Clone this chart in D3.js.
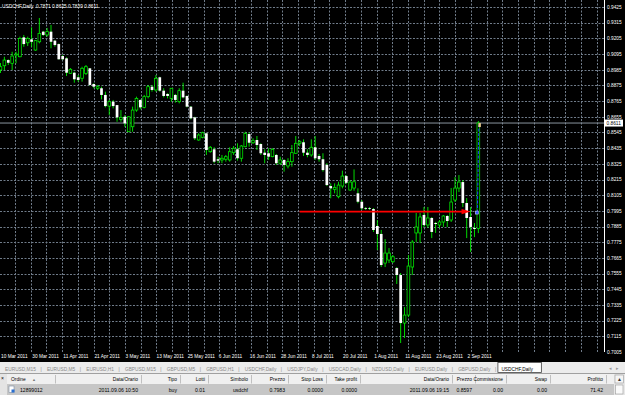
<!DOCTYPE html>
<html>
<head>
<meta charset="utf-8">
<script src="https://cdn.jsdelivr.net/npm/d3@7"></script>
<style>
  body { margin: 0; background: #000; }
  svg { display: block; font-family: "Liberation Sans", Arial, sans-serif; }
</style>
</head>
<body>
<svg id="chart" width="625" height="395"></svg>
<script>
// ---- data ----
const symbol = "USDCHF,Daily";
const firstDay = "2011-03-17";
const lastDay = "2011-09-06";

const opens = [
  0.8983,0.9013,0.9053,0.9030,0.9088,0.9076,0.9212,0.9174,0.9198,0.9123,
  0.9181,0.9252,0.9229,0.9252,0.9189,0.9165,0.9081,0.9065,0.8960,0.8964,
  0.8932,0.8925,0.8960,0.8995,0.8885,0.8855,0.8855,0.8808,0.8730,0.8761,
  0.8737,0.8637,0.8655,0.8550,0.8585,0.8702,0.8773,0.8721,0.8796,0.8866,
  0.8843,0.8932,0.8838,0.8815,0.8784,0.8808,0.8761,0.8838,0.8801,0.8726,
  0.8651,0.8492,0.8511,0.8539,0.8410,0.8427,0.8357,0.8352,0.8357,0.8352,
  0.8403,0.8427,0.8364,0.8445,0.8534,0.8473,0.8492,0.8464,0.8403,0.8399,
  0.8375,0.8387,0.8329,0.8352,0.8310,0.8340,0.8399,0.8469,0.8476,0.8403,
  0.8387,0.8441,0.8380,0.8357,0.8317,0.8169,0.8146,0.8094,0.8169,0.8239,
  0.8141,0.8155,0.8118,0.8059,0.8015,0.8015,0.8008,0.7889,0.7833,0.7629,
  0.7650,0.7638,0.7594,0.7545,0.7208,0.7264,0.7601,0.7840,0.7840,0.7966,
  0.7896,0.7945,0.7910,0.7896,0.7917,0.7959,0.7931,0.8071,0.8155,0.8197,
  0.8050,0.7952,0.7875,0.7871];
const highs = [
  0.9032,0.9076,0.9058,0.9111,0.9111,0.9217,0.9229,0.9217,0.9283,0.9193,
  0.9348,0.9257,0.9278,0.9299,0.9193,0.9169,0.9088,0.9072,0.8997,0.8971,
  0.8948,0.9006,0.9018,0.8997,0.8890,0.8878,0.8866,0.8831,0.8773,0.8773,
  0.8737,0.8702,0.8667,0.8660,0.8726,0.8796,0.8777,0.8808,0.8878,0.8878,
  0.8948,0.8936,0.8855,0.8820,0.8857,0.8815,0.8855,0.8894,0.8804,0.8730,
  0.8655,0.8539,0.8550,0.8541,0.8450,0.8441,0.8375,0.8387,0.8387,0.8441,
  0.8450,0.8469,0.8457,0.8550,0.8543,0.8504,0.8520,0.8469,0.8427,0.8434,
  0.8434,0.8394,0.8375,0.8357,0.8364,0.8457,0.8520,0.8492,0.8497,0.8427,
  0.8497,0.8520,0.8394,0.8399,0.8329,0.8188,0.8188,0.8199,0.8277,0.8246,
  0.8211,0.8286,0.8153,0.8071,0.8022,0.8022,0.8015,0.7931,0.7861,0.7797,
  0.7734,0.7685,0.7601,0.7559,0.7320,0.7685,0.7790,0.7980,0.7980,0.8022,
  0.8022,0.7952,0.7917,0.7931,0.7966,0.7966,0.8155,0.8232,0.8246,0.8211,
  0.8085,0.8022,0.7910,0.8625];
const lows = [
  0.8962,0.8983,0.9018,0.8983,0.9030,0.9072,0.9146,0.9151,0.9146,0.9118,
  0.9170,0.9222,0.9217,0.9135,0.9146,0.9057,0.9053,0.8941,0.8955,0.8894,
  0.8901,0.8901,0.8948,0.8874,0.8855,0.8843,0.8777,0.8721,0.8667,0.8714,
  0.8620,0.8620,0.8585,0.8548,0.8550,0.8690,0.8707,0.8714,0.8784,0.8831,
  0.8831,0.8831,0.8791,0.8784,0.8761,0.8754,0.8749,0.8784,0.8721,0.8637,
  0.8492,0.8487,0.8504,0.8387,0.8403,0.8329,0.8329,0.8329,0.8340,0.8340,
  0.8387,0.8347,0.8340,0.8441,0.8445,0.8464,0.8422,0.8387,0.8329,0.8352,
  0.8371,0.8317,0.8317,0.8270,0.8293,0.8305,0.8394,0.8450,0.8380,0.8371,
  0.8375,0.8352,0.8340,0.8270,0.8169,0.8083,0.8118,0.8083,0.8153,0.8183,
  0.8136,0.8136,0.8048,0.8001,0.8001,0.8001,0.7847,0.7720,0.7601,0.7601,
  0.7629,0.7629,0.7482,0.7068,0.7103,0.7250,0.7545,0.7776,0.7769,0.7882,
  0.7875,0.7804,0.7840,0.7875,0.7882,0.7882,0.7917,0.8057,0.8127,0.8022,
  0.7804,0.7706,0.7811,0.7839];
const closes = [
  0.9006,0.9053,0.9034,0.9081,0.9095,0.9205,0.9165,0.9205,0.9181,0.9189,
  0.9240,0.9229,0.9252,0.9181,0.9158,0.9058,0.9058,0.8964,0.8988,0.8918,
  0.8913,0.8995,0.9006,0.8878,0.8866,0.8866,0.8808,0.8730,0.8761,0.8730,
  0.8651,0.8651,0.8609,0.8655,0.8702,0.8784,0.8721,0.8796,0.8866,0.8843,
  0.8925,0.8838,0.8801,0.8801,0.8855,0.8773,0.8838,0.8791,0.8726,0.8644,
  0.8504,0.8527,0.8543,0.8422,0.8441,0.8340,0.8347,0.8364,0.8375,0.8410,
  0.8434,0.8364,0.8450,0.8539,0.8473,0.8487,0.8457,0.8399,0.8387,0.8375,
  0.8427,0.8329,0.8352,0.8317,0.8340,0.8403,0.8469,0.8480,0.8403,0.8387,
  0.8441,0.8364,0.8357,0.8281,0.8176,0.8153,0.8160,0.8176,0.8239,0.8192,
  0.8197,0.8199,0.8059,0.8013,0.8011,0.8013,0.7861,0.7833,0.7615,0.7699,
  0.7699,0.7673,0.7545,0.7208,0.7264,0.7608,0.7776,0.7882,0.7952,0.7896,
  0.7945,0.7847,0.7903,0.7917,0.7959,0.7924,0.8057,0.8155,0.8197,0.8050,
  0.7945,0.7882,0.7868,0.8611];

const priceTicks = [0.9425,0.9315,0.9205,0.9095,0.8985,0.8875,0.8765,0.8655,0.8545,
  0.8435,0.8325,0.8215,0.8105,0.7995,0.7885,0.7775,0.7665,0.7555,0.7445,0.7335,
  0.7225,0.7115,0.7005];
const dateTicks = ["2011-03-30","2011-04-11","2011-04-21","2011-05-03","2011-05-13",
  "2011-05-25","2011-06-06","2011-06-16","2011-06-28","2011-07-08","2011-07-20",
  "2011-08-01","2011-08-11","2011-08-23","2011-09-02"];
const edgeDateLabel = "10 Mar 2011";

const bidPrice = 0.8611;
const arrowLine = { from: "2011-07-04", to: "2011-09-02", price: 0.7990 };
const trade = { day: "2011-09-06", open: 0.7983, close: 0.8597 };

const tabs = ["EURUSD,M15","EURUSD,M5","EURUSD,H1","GBPUSD,M15","GBPUSD,M5","GBPUSD,H1",
  "USDCHF,Daily","USDJPY,Daily","USDCAD,Daily","NZDUSD,Daily","EURUSD,Daily","GBPUSD,Daily",
  "USDCHF,Daily"];
const columns = ["Ordine","Data/Orario","Tipo","Lotti","Simbolo","Prezzo","Stop Loss",
  "Take profit","Data/Orario","Prezzo","Commissione","Swap","Profitto"];
const orderRow = ["12899012","2011.09.06 10:50","buy","0.01","usdchf","0.7983","0.0000",
  "0.0000","2011.09.06 19:15","0.8597","0.00","0.00","71.42"];

// ---- layout ----
const W = 625, H = 395;
const plotR = 604, plotB = 352;
const barStep = 3.885;
const colRight = [55,141,180,208,251,288,326,360,452,475,506,550,606];
const lime = "#00f000";
const gridCol = "#707c8a";

const svg = d3.select("#chart");
const parse = d3.utcParse("%Y-%m-%d");
const fmtDate = d3.utcFormat("%-d %b %Y");
const fmtPrice = d3.format(".4f");

// trading calendar (weekdays) for the bar categories
const days = d3.utcDays(parse(firstDay), d3.utcDay.offset(parse(lastDay), 1))
  .filter(d => d.getUTCDay() !== 0 && d.getUTCDay() !== 6)
  .map(d => d3.utcFormat("%Y-%m-%d")(d));

const bars = days.map((d, i) => ({ day: d, o: opens[i], h: highs[i], l: lows[i], c: closes[i] }));

const x = d3.scaleBand()
  .domain(days)
  .range([0.5 - barStep / 2, 0.5 - barStep / 2 + barStep * days.length]);
const xc = d => x(d) + x.bandwidth() / 2;
const y = d3.scaleLinear().domain([0.7005, 0.9425]).range([plotB, 7]);

// background
svg.append("rect").attr("width", W).attr("height", 363).attr("fill", "#000");

svg.append("clipPath").attr("id", "plotClip")
  .append("rect").attr("width", plotR).attr("height", plotB);

const plot = svg.append("g").attr("clip-path", "url(#plotClip)");

// grid
plot.selectAll(".hgrid").data(priceTicks).enter().append("line")
  .attr("x1", 0).attr("x2", plotR)
  .attr("y1", d => Math.round(y(d)) + 0.5).attr("y2", d => Math.round(y(d)) + 0.5)
  .attr("stroke", gridCol).attr("stroke-dasharray", "2,1.5");
plot.selectAll(".vgrid").data(d3.range(15, plotR, 15.72)).enter().append("line")
  .attr("x1", d => Math.round(d) + 0.5).attr("x2", d => Math.round(d) + 0.5)
  .attr("y1", 0).attr("y2", plotB)
  .attr("stroke", gridCol).attr("stroke-dasharray", "2,1.5");

// bid line
plot.append("line")
  .attr("x1", 0).attr("x2", plotR)
  .attr("y1", y(bidPrice)).attr("y2", y(bidPrice))
  .attr("stroke", "#8a949e").attr("stroke-width", 1);

// candles
const candle = plot.selectAll(".candle").data(bars).enter().append("g");
candle.append("line")
  .attr("x1", d => xc(d.day)).attr("x2", d => xc(d.day))
  .attr("y1", d => y(d.h)).attr("y2", d => y(d.l))
  .attr("stroke", lime).attr("stroke-width", 0.9);
candle.append("rect")
  .attr("x", d => xc(d.day) - 1.35)
  .attr("width", 2.7)
  .attr("y", d => y(Math.max(d.o, d.c)))
  .attr("height", d => Math.max(0.8, Math.abs(y(d.o) - y(d.c))))
  .attr("fill", d => d.c >= d.o ? "#000" : "#fff")
  .attr("stroke", d => d.c >= d.o ? lime : "none")
  .attr("stroke-width", 0.75);

// red arrow object
const ay = y(arrowLine.price);
const ax0 = xc(arrowLine.from), ax1 = xc(arrowLine.to);
plot.append("line")
  .attr("x1", ax0).attr("x2", ax1 - 8)
  .attr("y1", ay).attr("y2", ay)
  .attr("stroke", "#ff0000").attr("stroke-width", 1.6);
plot.append("path")
  .attr("d", `M${ax1 - 9},${ay - 2.6}L${ax1},${ay}L${ax1 - 9},${ay + 2.6}Z`)
  .attr("fill", "#ff0000");

// trade line: open -> close
const tx = xc(trade.day);
plot.append("line")
  .attr("x1", tx - 1).attr("x2", tx + 0.5)
  .attr("y1", y(trade.open)).attr("y2", y(trade.close))
  .attr("stroke", "#2040ff").attr("stroke-width", 1).attr("stroke-dasharray", "3,1.5");
plot.append("rect")
  .attr("x", tx - 3).attr("y", y(trade.open) - 1.5).attr("width", 3).attr("height", 3)
  .attr("fill", "#3050ff").attr("stroke", "#c8d0ff").attr("stroke-width", 0.6);
plot.append("rect")
  .attr("x", tx).attr("y", y(trade.close) - 2).attr("width", 2.5).attr("height", 4)
  .attr("fill", "#e8c890");

// frame
svg.append("line").attr("x1", plotR + 0.5).attr("x2", plotR + 0.5).attr("y1", 0).attr("y2", plotB)
  .attr("stroke", "#fff");

// price axis labels
svg.selectAll(".plabel").data(priceTicks).enter().append("text")
  .attr("x", plotR + 3).attr("y", d => y(d) + 1.8)
  .attr("fill", "#fff").attr("font-size", 4.8)
  .text(d => fmtPrice(d));

// bid label
svg.append("rect")
  .attr("x", plotR + 1).attr("y", y(bidPrice) - 3.5).attr("width", 18).attr("height", 7)
  .attr("fill", "#fff");
svg.append("text")
  .attr("x", plotR + 2.5).attr("y", y(bidPrice) + 1.8)
  .attr("fill", "#000").attr("font-size", 4.8)
  .text(fmtPrice(bidPrice));

// time axis labels
svg.selectAll(".tlabel").data(dateTicks).enter().append("text")
  .attr("x", d => xc(d) - 3.2).attr("y", 357.5)
  .attr("fill", "#fff").attr("font-size", 4.8)
  .text(d => fmtDate(parse(d)));
svg.append("text")
  .attr("x", 1).attr("y", 357.5)
  .attr("fill", "#fff").attr("font-size", 4.8)
  .text(edgeDateLabel);

// header
const last = bars[bars.length - 1];
svg.append("text")
  .attr("x", 2).attr("y", 8)
  .attr("fill", "#fff").attr("font-size", 4.8)
  .attr("xml:space", "preserve")
  .text(`${symbol}  ${fmtPrice(last.o)} ${fmtPrice(last.h)} ${fmtPrice(last.l)} ${fmtPrice(last.c)}`);

// ---- tab bar ----
const tabBar = svg.append("g");
tabBar.append("rect").attr("y", 362).attr("width", W).attr("height", 12).attr("fill", "#ececec");
let tabX = 5;
tabs.forEach((t, i) => {
  const active = i === tabs.length - 1;
  const txt = tabBar.append("text")
    .attr("x", tabX).attr("y", 370.5)
    .attr("font-size", 4.8)
    .attr("fill", active ? "#000" : "#8a8a8a")
    .text(t);
  const w = txt.node().getComputedTextLength();
  if (active) {
    tabBar.insert("rect", "text")
      .attr("x", tabX - 3.5).attr("y", 362.5).attr("width", w + 12).attr("height", 10)
      .attr("fill", "#fff").attr("stroke", "#404040").attr("stroke-width", 0.8);
  } else {
    tabBar.append("text")
      .attr("x", tabX + w + 4.5).attr("y", 370.5)
      .attr("font-size", 4.8).attr("fill", "#8a8a8a").text("|");
  }
  tabX += w + 11;
});
tabBar.append("text").attr("x", 609).attr("y", 370).attr("font-size", 5).attr("fill", "#999").text("◂");
tabBar.append("text").attr("x", 616).attr("y", 370).attr("font-size", 5).attr("fill", "#999").text("▸");

// ---- terminal ----
const term = svg.append("g");
term.append("rect").attr("y", 374).attr("width", W).attr("height", 10).attr("fill", "#f0f0f0");
term.append("rect").attr("y", 384).attr("width", W).attr("height", 11).attr("fill", "#c6c6c6");
term.append("line").attr("x1", 0).attr("x2", W).attr("y1", 373.5).attr("y2", 373.5).attr("stroke", "#a0a0a0");
term.append("rect").attr("x", 0).attr("y", 374).attr("width", 7).attr("height", 21).attr("fill", "#e4e4e4");
term.append("text").attr("x", 1).attr("y", 379.5).attr("font-size", 5).attr("fill", "#000").text("×");

colRight.forEach((r, i) => {
  term.append("line")
    .attr("x1", r + 0.5).attr("x2", r + 0.5).attr("y1", 375).attr("y2", 383.5)
    .attr("stroke", "#c0c0c0");
  const left = i === 0;
  term.append("text")
    .attr("x", left ? 11 : r - 3).attr("y", 381.2)
    .attr("text-anchor", left ? "start" : "end")
    .attr("font-size", 4.9).attr("fill", "#000")
    .text(columns[i]);
  term.append("text")
    .attr("x", left ? 20 : r - 3).attr("y", 391.8)
    .attr("text-anchor", left ? "start" : "end")
    .attr("font-size", 5.1).attr("fill", "#000")
    .text(orderRow[i]);
});
term.append("text").attr("x", 32).attr("y", 381).attr("font-size", 4).attr("fill", "#777").text("▲");
// order icon
term.append("rect").attr("x", 9).attr("y", 386).attr("width", 5).attr("height", 6.5)
  .attr("fill", "#fff").attr("stroke", "#7a8aa0").attr("stroke-width", 0.6);
term.append("rect").attr("x", 11.5).attr("y", 389.5).attr("width", 3).attr("height", 3).attr("fill", "#2a6fd0");
// scrollbar
term.append("rect").attr("x", 614).attr("y", 374).attr("width", 11).attr("height", 21).attr("fill", "#e8e8e8");
term.append("rect").attr("x", 615).attr("y", 375).attr("width", 8.5).attr("height", 8).attr("fill", "#f4f4f4")
  .attr("stroke", "#9a9a9a").attr("stroke-width", 0.6);
term.append("text").attr("x", 617).attr("y", 381).attr("font-size", 5).attr("fill", "#333").text("▲");
term.append("rect").attr("x", 615.5).attr("y", 385).attr("width", 7.5).attr("height", 9).attr("fill", "#fafafa")
  .attr("stroke", "#9a9a9a").attr("stroke-width", 0.6);
</script>
</body>
</html>
